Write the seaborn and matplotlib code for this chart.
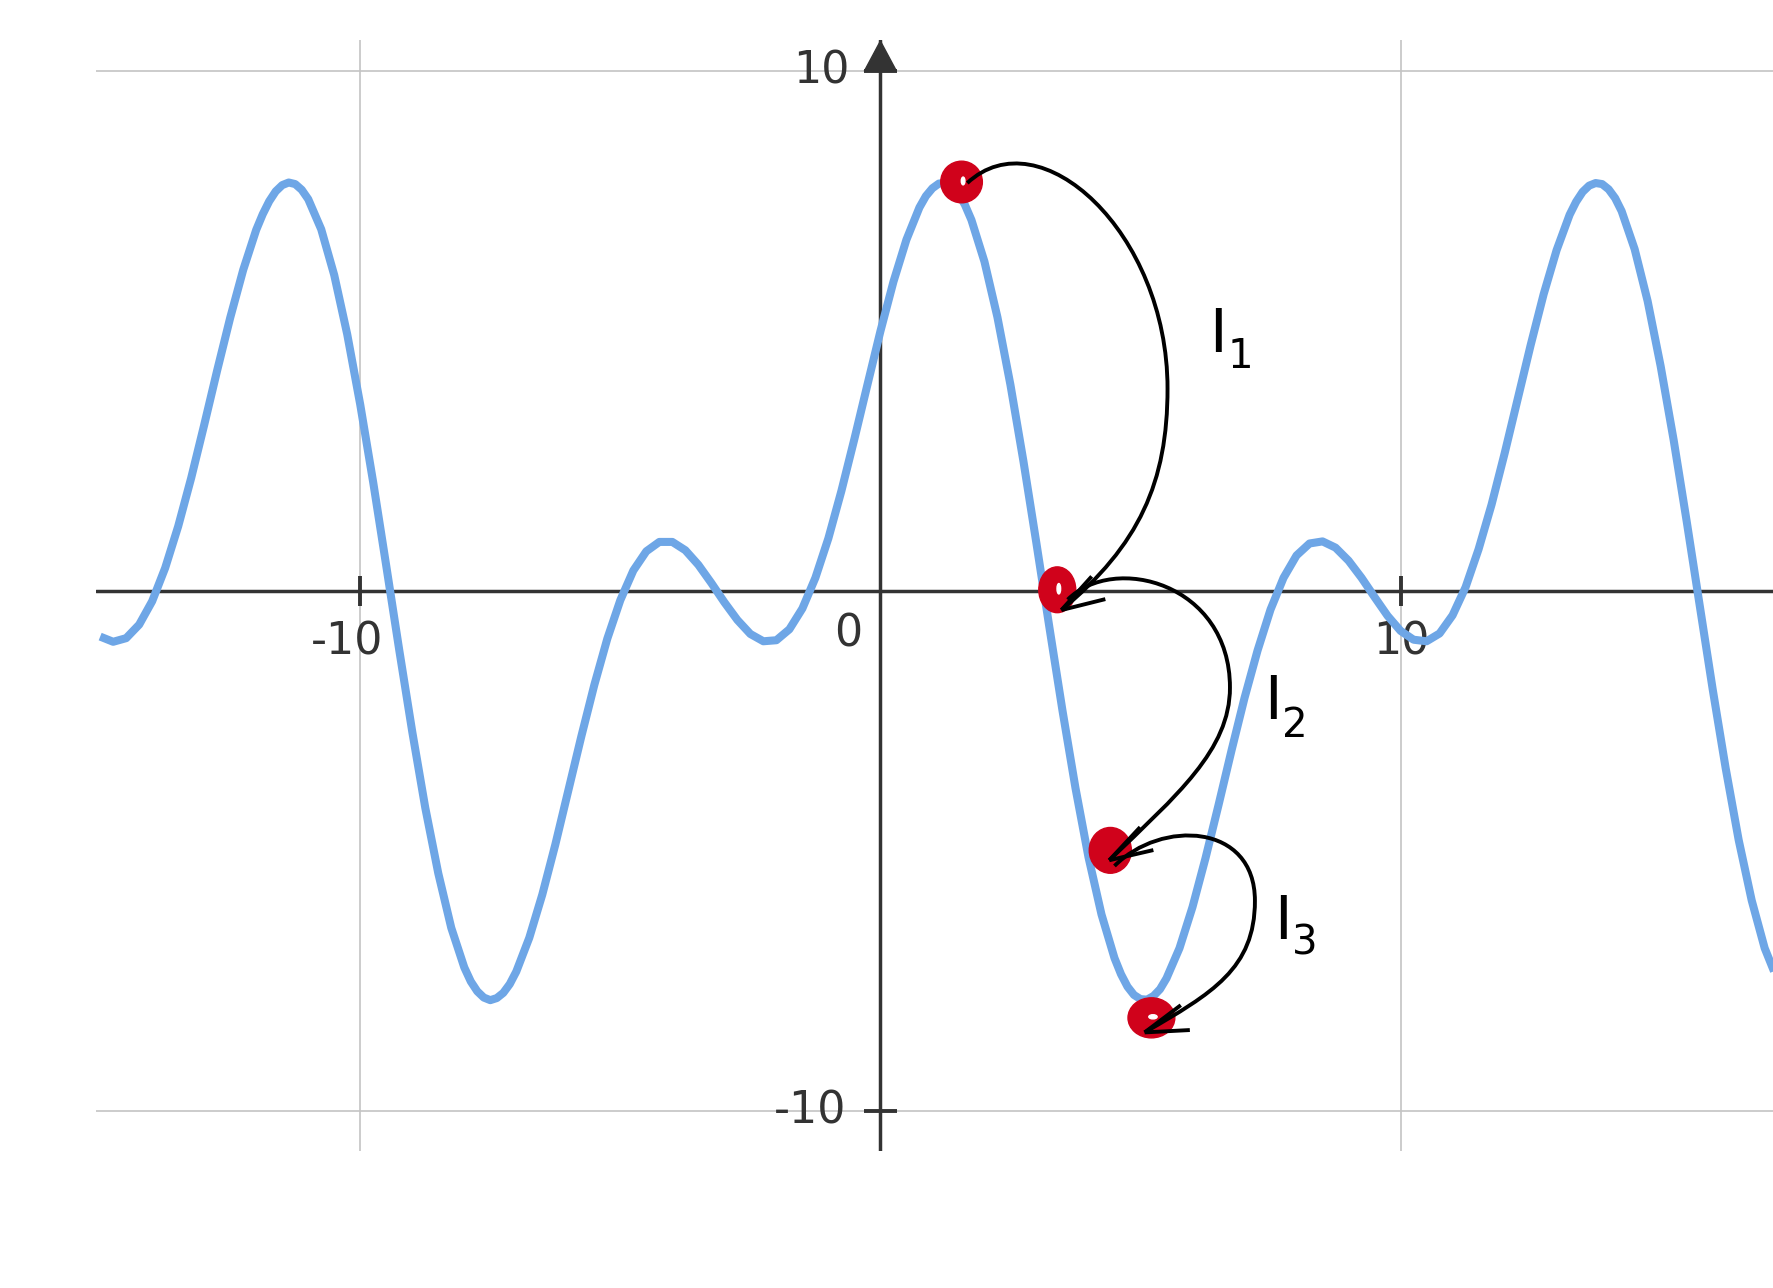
import numpy as np
import pandas as pd
import matplotlib
matplotlib.use("Agg")
import matplotlib.pyplot as plt
import seaborn as sns
from matplotlib.path import Path
from matplotlib.patches import PathPatch, Ellipse, Polygon

# ---------------- data ----------------
curve_x = [-15.0, -14.75, -14.5, -14.25, -14.0, -13.75, -13.5, -13.25, -13.0, -12.75,
           -12.5, -12.25, -12.0, -11.875, -11.75, -11.625, -11.5, -11.375, -11.25, -11.125,
           -11.0, -10.75, -10.5, -10.25,
           -10.0, -9.75, -9.5, -9.25, -9.0, -8.75, -8.5, -8.25, -8.0, -7.875,
           -7.75, -7.625, -7.5, -7.375, -7.25, -7.125, -7.0,
           -6.75, -6.5, -6.25, -6.0, -5.75, -5.5, -5.25,
           -5.0, -4.75, -4.5, -4.25, -4.0, -3.75, -3.5, -3.25, -3.0, -2.75,
           -2.5, -2.25, -2.0, -1.75, -1.5, -1.25, -1.0, -0.75, -0.5, -0.25,
           0.0, 0.25, 0.5, 0.75, 0.875, 1.0, 1.125, 1.25, 1.375, 1.5, 1.625, 1.75,
           2.0, 2.25, 2.5, 2.75, 3.0, 3.25, 3.5, 3.75, 4.0, 4.25,
           4.5, 4.625, 4.75, 4.875, 5.0, 5.125, 5.25, 5.375, 5.5,
           5.75, 6.0, 6.25, 6.5, 6.75, 7.0, 7.25,
           7.5, 7.75, 8.0, 8.25, 8.5, 8.75, 9.0, 9.25, 9.5, 9.75,
           10.0, 10.25, 10.5, 10.75, 11.0, 11.25, 11.5, 11.75, 12.0, 12.25,
           12.5, 12.75, 13.0, 13.25, 13.375, 13.5, 13.625, 13.75, 13.875, 14.0,
           14.125, 14.25, 14.5, 14.75,
           15.0, 15.25, 15.5, 15.75, 16.0, 16.25, 16.5, 16.75, 17.0, 17.25]
curve_y = [-0.87, -0.97, -0.90, -0.64, -0.19, 0.45, 1.25, 2.18, 3.20, 4.25,
           5.26, 6.18, 6.95, 7.25, 7.50, 7.69, 7.81, 7.86, 7.83, 7.72,
           7.54, 6.96, 6.08, 4.94,
           3.59, 2.09, 0.49, -1.13, -2.70, -4.16, -5.42, -6.47, -7.23, -7.50,
           -7.69, -7.81, -7.86, -7.82, -7.72, -7.55, -7.31,
           -6.66, -5.83, -4.87, -3.83, -2.79, -1.80, -0.91,
           -0.17, 0.40, 0.77, 0.95, 0.95, 0.79, 0.51, 0.16, -0.21, -0.55,
           -0.82, -0.96, -0.94, -0.73, -0.33, 0.26, 1.02, 1.93, 2.93, 3.97,
           5.00, 5.95, 6.76, 7.38, 7.60, 7.75, 7.84, 7.85, 7.79, 7.65, 7.43, 7.14,
           6.34, 5.27, 3.97, 2.50, 0.92, -0.70, -2.29, -3.78, -5.11, -6.21,
           -7.05, -7.36, -7.60, -7.76, -7.84, -7.85, -7.78, -7.65, -7.44,
           -6.86, -6.07, -5.13, -4.11, -3.06, -2.05, -1.14,
           -0.35, 0.26, 0.69, 0.92, 0.96, 0.84, 0.59, 0.26, -0.11, -0.47,
           -0.76, -0.93, -0.96, -0.81, -0.46, 0.08, 0.81, 1.67, 2.65, 3.69,
           4.73, 5.71, 6.56, 7.24, 7.49, 7.68, 7.80, 7.85, 7.83, 7.73,
           7.56, 7.31, 6.58, 5.58,
           4.33, 2.91, 1.35, -0.27, -1.88, -3.40, -4.78, -5.94, -6.86, -7.48]

tick_values = [-10, 10]
tick_labels = ["-10", "10"]
origin_label = "0"

# hand-drawn red blobs (centres, widths, heights)
blob_x = [1.56, 3.40, 4.42, 5.21]
blob_y = [7.87, 0.03, -4.98, -8.20]
blob_w = [0.80, 0.71, 0.81, 0.90]
blob_h = [0.80, 0.88, 0.88, 0.77]

# curved arrows between blobs: start, outermost point, tip
arrow_start_x = [1.67, 3.60, 4.50]
arrow_start_y = [7.85, -0.16, -5.28]
arrow_mid_x = [5.52, 6.72, 7.20]
arrow_mid_y = [3.90, -1.85, -5.95]
arrow_end_x = [3.48, 4.40, 5.08]
arrow_end_y = [-0.36, -5.17, -8.48]

arrow_label = "I"
arrow_subs = ["1", "2", "3"]
label_x = [6.32, 7.37, 7.57]
label_y = [4.60, -2.45, -6.68]
sub_y = [4.30, -2.80, -6.99]

# ---------------- styles ----------------
CURVE = "#6ea6e6"
AXIS = "#333333"
GRID = "#c4c4c4"
RED = "#d0021b"
c_start = [(1.4, 1.3), (0.9, 0.9), (0.9, 0.9)]
c_mid_up = [3.0, 2.0, 1.5]
c_mid_down = [1.8, 1.2, 1.3]
c_end = [(1.5, 1.25), (1.3, 1.25), (1.3, 0.75)]
head_dir = [31, 30, 20]      # degrees
head_half = 17
head_len = 0.87
sub_gap = 0.35

sns.set_style("white")
plt.rcParams["font.family"] = ["DejaVu Sans"]

W, H = 1773, 1288
fig = plt.figure(figsize=(W / 100, H / 100), dpi=100)
ax = fig.add_axes([96 / W, (H - 1151) / H, (W - 96) / W, (1151 - 40) / H])

# grid
for t in tick_values:
    ax.axvline(t, color=GRID, lw=1.2, zorder=0)
    ax.axhline(t, color=GRID, lw=1.2, zorder=0)

# axes
ax.axhline(0, color=AXIS, lw=2.5, zorder=2)
ax.axvline(0, color=AXIS, lw=2.5, zorder=2)
for t in tick_values:
    ax.plot([t, t], [-0.29, 0.29], color=AXIS, lw=2.8, zorder=2, solid_capstyle="butt")
    ax.plot([-0.31, 0.31], [t, t], color=AXIS, lw=2.8, zorder=2, solid_capstyle="butt")
top = max(tick_values)
ax.add_patch(Polygon([(-0.31, top), (0.31, top), (0, top + 0.58)], closed=True,
                     color=AXIS, zorder=3))

# tick labels
fs = 32
ax.text(-10.26, -1.22, tick_labels[0], ha="center", va="baseline", fontsize=fs, color=AXIS)
ax.text(10.01, -1.22, tick_labels[1], ha="center", va="baseline", fontsize=fs, color=AXIS)
ax.text(-1.13, 9.76, tick_labels[1], ha="center", va="baseline", fontsize=fs, color=AXIS)
ax.text(-1.35, -10.24, tick_labels[0], ha="center", va="baseline", fontsize=fs, color=AXIS)
ax.text(-0.62, -1.07, origin_label, ha="center", va="baseline", fontsize=fs, color=AXIS)

# curve
df = pd.DataFrame({"x": curve_x, "y": curve_y})
sns.lineplot(data=df, x="x", y="y", ax=ax, color=CURVE, lw=5.8, sort=False,
             estimator=None, zorder=3, solid_joinstyle="round", solid_capstyle="butt")
ax.set_xlim(-15.08, 17.16)
ax.set_ylim(-10.76, 10.60)
ax.set_axis_off()

# blobs
for bx, by, bw, bh in zip(blob_x, blob_y, blob_w, blob_h):
    ax.add_patch(Ellipse((bx, by), bw, bh, color=RED, zorder=4))
# small light gaps in the hand-drawn blobs
for i, (gw, gh) in zip([0, 1, 3], [(0.07, 0.15), (0.07, 0.2), (0.16, 0.08)]):
    ax.add_patch(Ellipse((blob_x[i] + 0.03, blob_y[i] + 0.02), gw, gh, color="white", zorder=4.5))

# arrows
for i in range(len(arrow_start_x)):
    p0 = (arrow_start_x[i], arrow_start_y[i])
    pm = (arrow_mid_x[i], arrow_mid_y[i])
    p3 = (arrow_end_x[i], arrow_end_y[i])
    verts = [p0,
             (p0[0] + c_start[i][0], p0[1] + c_start[i][1]),
             (pm[0], pm[1] + c_mid_up[i]),
             pm,
             (pm[0], pm[1] - c_mid_down[i]),
             (p3[0] + c_end[i][0], p3[1] + c_end[i][1]),
             p3]
    codes = [Path.MOVETO] + [Path.CURVE4] * 6
    ax.add_patch(PathPatch(Path(verts, codes), fill=False, edgecolor="black", lw=2.8,
                           zorder=5, capstyle="butt"))
    for sgn in (-1, 1):
        a = np.deg2rad(head_dir[i] + sgn * head_half)
        ax.plot([p3[0], p3[0] + head_len * np.cos(a)], [p3[1], p3[1] + head_len * np.sin(a)],
                color="black", lw=2.8, zorder=5, solid_capstyle="butt")

for lx, ly, sy, sub in zip(label_x, label_y, sub_y, arrow_subs):
    ax.text(lx, ly, arrow_label, ha="left", va="baseline", fontsize=43, color="black")
    ax.text(lx + sub_gap, sy, sub, ha="left", va="baseline", fontsize=29, color="black")

fig.savefig("out.png", dpi=100, facecolor="white")
